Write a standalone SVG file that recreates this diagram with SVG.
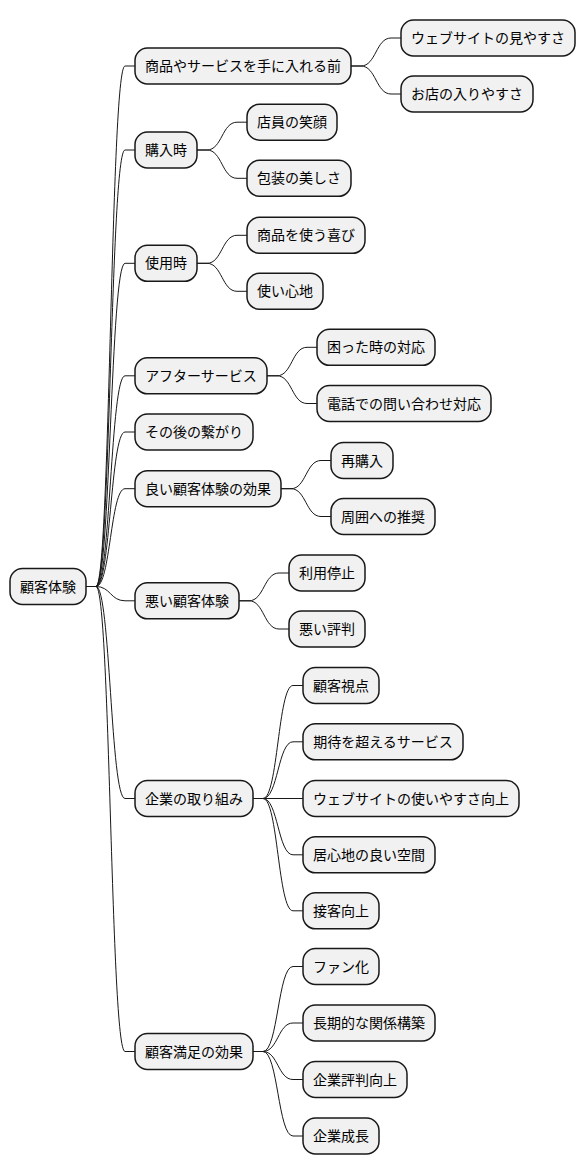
<svg xmlns="http://www.w3.org/2000/svg" width="586" height="1175" viewBox="0 0 586 1175">
<style>
.n rect{fill:#F1F1F1;stroke:#181818;stroke-width:1.5}
.n text{font-family:"Noto Sans CJK JP","Noto Sans",sans-serif;font-size:14px;fill:#000;text-anchor:middle}
#connectors path{fill:none;stroke:#181818;stroke-width:1}
</style>
<rect width="586" height="1175" fill="#FFFFFF"/>
<g id="connectors">
<path d="M86,586.5 L96,586.5 C110.5,586.5 110.5,66 125,66 L135,66"/>
<path d="M86,586.5 L96,586.5 C110.5,586.5 110.5,150 125,150 L135,150"/>
<path d="M86,586.5 L96,586.5 C110.5,586.5 110.5,263.3 125,263.3 L135,263.3"/>
<path d="M86,586.5 L96,586.5 C110.5,586.5 110.5,375.8 125,375.8 L135,375.8"/>
<path d="M86,586.5 L96,586.5 C110.5,586.5 110.5,432 125,432 L135,432"/>
<path d="M86,586.5 L96,586.5 C110.5,586.5 110.5,488.7 125,488.7 L135,488.7"/>
<path d="M86,586.5 L96,586.5 C110.5,586.5 110.5,600.8 125,600.8 L135,600.8"/>
<path d="M86,586.5 L96,586.5 C110.5,586.5 110.5,798.5 125,798.5 L135,798.5"/>
<path d="M86,586.5 L96,586.5 C110.5,586.5 110.5,1051.5 125,1051.5 L135,1051.5"/>
<path d="M351,66 L361,66 C376,66 376,38 391,38 L401,38"/>
<path d="M351,66 L361,66 C376,66 376,94 391,94 L401,94"/>
<path d="M197,150 L207,150 C222,150 222,122.2 237,122.2 L247,122.2"/>
<path d="M197,150 L207,150 C222,150 222,178.3 237,178.3 L247,178.3"/>
<path d="M197,263.3 L207,263.3 C222,263.3 222,235.3 237,235.3 L247,235.3"/>
<path d="M197,263.3 L207,263.3 C222,263.3 222,291.3 237,291.3 L247,291.3"/>
<path d="M267,375.8 L277,375.8 C292,375.8 292,347.3 307,347.3 L317,347.3"/>
<path d="M267,375.8 L277,375.8 C292,375.8 292,403.5 307,403.5 L317,403.5"/>
<path d="M281,488.7 L291,488.7 C306,488.7 306,460.5 321,460.5 L331,460.5"/>
<path d="M281,488.7 L291,488.7 C306,488.7 306,516.5 321,516.5 L331,516.5"/>
<path d="M239,600.8 L249,600.8 C264,600.8 264,573 279,573 L289,573"/>
<path d="M239,600.8 L249,600.8 C264,600.8 264,629 279,629 L289,629"/>
<path d="M253,798.5 L263,798.5 C278,798.5 278,685.5 293,685.5 L303,685.5"/>
<path d="M253,798.5 L263,798.5 C278,798.5 278,741.8 293,741.8 L303,741.8"/>
<path d="M253,798.5 L303,798.5"/>
<path d="M253,798.5 L263,798.5 C278,798.5 278,854.8 293,854.8 L303,854.8"/>
<path d="M253,798.5 L263,798.5 C278,798.5 278,910.8 293,910.8 L303,910.8"/>
<path d="M253,1051.5 L263,1051.5 C278,1051.5 278,966.5 293,966.5 L303,966.5"/>
<path d="M253,1051.5 L263,1051.5 C278,1051.5 278,1023 293,1023 L303,1023"/>
<path d="M253,1051.5 L263,1051.5 C278,1051.5 278,1079.5 293,1079.5 L303,1079.5"/>
<path d="M253,1051.5 L263,1051.5 C278,1051.5 278,1136 293,1136 L303,1136"/>
</g>
<g id="root" class="n"><rect x="10" y="568.5" width="76" height="36" rx="12.5"/><text x="48" y="591.5">顧客体験</text></g>
<g id="n-a" class="n"><rect x="135" y="48" width="216" height="36" rx="12.5"/><text x="243" y="71">商品やサービスを手に入れる前</text></g>
<g id="n-a1" class="n"><rect x="401" y="20" width="174" height="36" rx="12.5"/><text x="488" y="43">ウェブサイトの見やすさ</text></g>
<g id="n-a2" class="n"><rect x="401" y="76" width="132" height="36" rx="12.5"/><text x="467" y="99">お店の入りやすさ</text></g>
<g id="n-b" class="n"><rect x="135" y="132" width="62" height="36" rx="12.5"/><text x="166" y="155">購入時</text></g>
<g id="n-b1" class="n"><rect x="247" y="104.2" width="90" height="36" rx="12.5"/><text x="292" y="127.2">店員の笑顔</text></g>
<g id="n-b2" class="n"><rect x="247" y="160.3" width="104" height="36" rx="12.5"/><text x="299" y="183.3">包装の美しさ</text></g>
<g id="n-c" class="n"><rect x="135" y="245.3" width="62" height="36" rx="12.5"/><text x="166" y="268.3">使用時</text></g>
<g id="n-c1" class="n"><rect x="247" y="217.3" width="118" height="36" rx="12.5"/><text x="306" y="240.3">商品を使う喜び</text></g>
<g id="n-c2" class="n"><rect x="247" y="273.3" width="76" height="36" rx="12.5"/><text x="285" y="296.3">使い心地</text></g>
<g id="n-d" class="n"><rect x="135" y="357.8" width="132" height="36" rx="12.5"/><text x="201" y="380.8">アフターサービス</text></g>
<g id="n-d1" class="n"><rect x="317" y="329.3" width="118" height="36" rx="12.5"/><text x="376" y="352.3">困った時の対応</text></g>
<g id="n-d2" class="n"><rect x="317" y="385.5" width="174" height="36" rx="12.5"/><text x="404" y="408.5">電話での問い合わせ対応</text></g>
<g id="n-e" class="n"><rect x="135" y="414" width="118" height="36" rx="12.5"/><text x="194" y="437">その後の繋がり</text></g>
<g id="n-f" class="n"><rect x="135" y="470.7" width="146" height="36" rx="12.5"/><text x="208" y="493.7">良い顧客体験の効果</text></g>
<g id="n-f1" class="n"><rect x="331" y="442.5" width="62" height="36" rx="12.5"/><text x="362" y="465.5">再購入</text></g>
<g id="n-f2" class="n"><rect x="331" y="498.5" width="104" height="36" rx="12.5"/><text x="383" y="521.5">周囲への推奨</text></g>
<g id="n-g" class="n"><rect x="135" y="582.8" width="104" height="36" rx="12.5"/><text x="187" y="605.8">悪い顧客体験</text></g>
<g id="n-g1" class="n"><rect x="289" y="555" width="76" height="36" rx="12.5"/><text x="327" y="578">利用停止</text></g>
<g id="n-g2" class="n"><rect x="289" y="611" width="76" height="36" rx="12.5"/><text x="327" y="634">悪い評判</text></g>
<g id="n-h" class="n"><rect x="135" y="780.5" width="118" height="36" rx="12.5"/><text x="194" y="803.5">企業の取り組み</text></g>
<g id="n-h1" class="n"><rect x="303" y="667.5" width="76" height="36" rx="12.5"/><text x="341" y="690.5">顧客視点</text></g>
<g id="n-h2" class="n"><rect x="303" y="723.8" width="160" height="36" rx="12.5"/><text x="383" y="746.8">期待を超えるサービス</text></g>
<g id="n-h3" class="n"><rect x="303" y="780.5" width="216" height="36" rx="12.5"/><text x="411" y="803.5">ウェブサイトの使いやすさ向上</text></g>
<g id="n-h4" class="n"><rect x="303" y="836.8" width="132" height="36" rx="12.5"/><text x="369" y="859.8">居心地の良い空間</text></g>
<g id="n-h5" class="n"><rect x="303" y="892.8" width="76" height="36" rx="12.5"/><text x="341" y="915.8">接客向上</text></g>
<g id="n-i" class="n"><rect x="135" y="1033.5" width="118" height="36" rx="12.5"/><text x="194" y="1056.5">顧客満足の効果</text></g>
<g id="n-i1" class="n"><rect x="303" y="948.5" width="76" height="36" rx="12.5"/><text x="341" y="971.5">ファン化</text></g>
<g id="n-i2" class="n"><rect x="303" y="1005" width="132" height="36" rx="12.5"/><text x="369" y="1028">長期的な関係構築</text></g>
<g id="n-i3" class="n"><rect x="303" y="1061.5" width="104" height="36" rx="12.5"/><text x="355" y="1084.5">企業評判向上</text></g>
<g id="n-i4" class="n"><rect x="303" y="1118" width="76" height="36" rx="12.5"/><text x="341" y="1141">企業成長</text></g>
</svg>
